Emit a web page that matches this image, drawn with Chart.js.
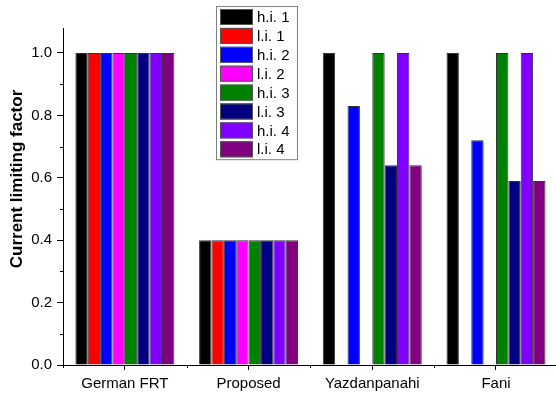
<!DOCTYPE html>
<html>
<head>
<meta charset="utf-8">
<script src="https://cdn.jsdelivr.net/npm/chart.js@4/dist/chart.umd.min.js"></script>
<style>
  html, body { margin: 0; padding: 0; background: #fff; overflow: hidden; }
  #wrap { width: 556px; height: 395px; position: relative; }
</style>
</head>
<body>
<div id="wrap"><canvas id="chart"></canvas></div>
<script>
// Categories along x (positions 1..4 on a linear axis)
const categories = ['German FRT', 'Proposed', 'Yazdanpanahi', 'Fani'];

// Series values, one per category (null = no bar)
const hi1 = [1.0, 0.4, 1.0, 1.0];
const li1 = [1.0, 0.4, null, null];
const hi2 = [1.0, 0.4, 0.83, 0.72];
const li2 = [1.0, 0.4, null, null];
const hi3 = [1.0, 0.4, 1.0, 1.0];
const li3 = [1.0, 0.4, 0.64, 0.59];
const hi4 = [1.0, 0.4, 1.0, 1.0];
const li4 = [1.0, 0.4, 0.64, 0.59];

const seriesLabels = ['h.i. 1', 'l.i. 1', 'h.i. 2', 'l.i. 2', 'h.i. 3', 'l.i. 3', 'h.i. 4', 'l.i. 4'];
const seriesValues = [hi1, li1, hi2, li2, hi3, li3, hi4, li4];
const seriesColours = ['#000000', '#ff0000', '#0000ff', '#ff00ff', '#008000', '#000080', '#8000ff', '#800080'];

// Tick labels
const yMajorTicks = [0, 0.2, 0.4, 0.6, 0.8, 1.0];
const yMinorTicks = [0.1, 0.3, 0.5, 0.7, 0.9];
const xMinorTicks = [0.5, 1.5, 2.5, 3.5];
const yTitle = 'Current limiting factor';

const FONT = "'Liberation Sans', Arial, sans-serif";

const datasets = seriesValues.map((vals, i) => ({
  label: seriesLabels[i],
  data: vals.map((v, j) => ({x: j + 1, y: v})),
  backgroundColor: seriesColours[i],
  borderColor: '#333',
  borderWidth: 1,
  borderSkipped: 'bottom',
}));

// Draws the short minor ticks on both axes, plus the y title
const minorTicks = {
  id: 'minorTicks',
  afterDraw(chart) {
    const {ctx, scales: {x, y}, chartArea} = chart;
    ctx.save();
    ctx.strokeStyle = '#000';
    ctx.lineWidth = 1;
    ctx.beginPath();
    yMinorTicks.forEach(v => {
      const py = Math.round(y.getPixelForValue(v)) + 0.5;
      ctx.moveTo(chartArea.left - 3, py);
      ctx.lineTo(chartArea.left, py);
    });
    xMinorTicks.forEach(v => {
      const px = Math.round(x.getPixelForValue(v)) + 0.5;
      ctx.moveTo(px, chartArea.bottom);
      ctx.lineTo(px, chartArea.bottom + 3);
    });
    ctx.stroke();

    // y title sits a bit above the middle of the axis in the original
    ctx.translate(17, 179);
    ctx.rotate(-Math.PI / 2);
    ctx.font = 'bold 17px ' + FONT;
    ctx.fillStyle = '#000';
    ctx.textAlign = 'center';
    ctx.textBaseline = 'middle';
    ctx.fillText(yTitle, 0, 0);
    ctx.restore();
  }
};

// Boxed legend inside the plot, like the original
const boxLegend = {
  id: 'boxLegend',
  afterDraw(chart) {
    const ctx = chart.ctx;
    const left = 216, top = 6, w = 81, rowH = 18.9;
    ctx.save();
    ctx.fillStyle = '#fff';
    ctx.fillRect(left, top, w, rowH * datasets.length + 2);
    ctx.strokeStyle = '#808080';
    ctx.lineWidth = 1;
    ctx.strokeRect(left + 0.5, top + 0.5, w, rowH * datasets.length + 2);
    ctx.font = '15px ' + FONT;
    ctx.textBaseline = 'middle';
    chart.data.datasets.forEach((ds, i) => {
      const yy = top + 3 + i * rowH;
      ctx.fillStyle = ds.backgroundColor;
      ctx.fillRect(left + 4, yy, 33, 16);
      ctx.strokeStyle = '#555';
      ctx.strokeRect(left + 4.5, yy + 0.5, 32, 15);
      ctx.fillStyle = '#000';
      ctx.fillText(ds.label, left + 41, yy + 9);
    });
    ctx.restore();
  }
};

const chart = new Chart(document.getElementById('chart'), {
  type: 'bar',
  data: {datasets},
  options: {
    responsive: true,
    maintainAspectRatio: false,
    animation: false,
    layout: {padding: {top: 28, right: 0, left: 0, bottom: 0}},
    categoryPercentage: 0.8,
    barPercentage: 1.0,
    plugins: {
      legend: {display: false},
      tooltip: {enabled: false},
    },
    scales: {
      x: {
        type: 'linear',
        offset: false,
        min: 0.5,
        max: 4.485,
        afterBuildTicks: s => { s.ticks = categories.map((c, i) => ({value: i + 1})); },
        afterFit: s => { s.height = 30; },
        border: {display: true, color: '#000', width: 1},
        grid: {offset: false, drawOnChartArea: false, drawTicks: true, tickLength: 5, color: '#000'},
        ticks: {
          color: '#000',
          font: {family: FONT, size: 15},
          padding: 5,
          maxRotation: 0,
          callback: v => categories[Math.round(v) - 1] || '',
        },
      },
      y: {
        min: 0,
        max: 1.08,
        afterBuildTicks: s => { s.ticks = yMajorTicks.map(v => ({value: v})); },
        afterFit: s => { s.width = 63; },
        border: {display: true, color: '#000', width: 1},
        grid: {drawOnChartArea: false, drawTicks: true, tickLength: 6, color: '#000'},
        ticks: {
          color: '#000',
          font: {family: FONT, size: 15},
          padding: 5,
          callback: v => v.toFixed(1),
        },
      },
    },
  },
  plugins: [minorTicks, boxLegend],
});
</script>
</body>
</html>
